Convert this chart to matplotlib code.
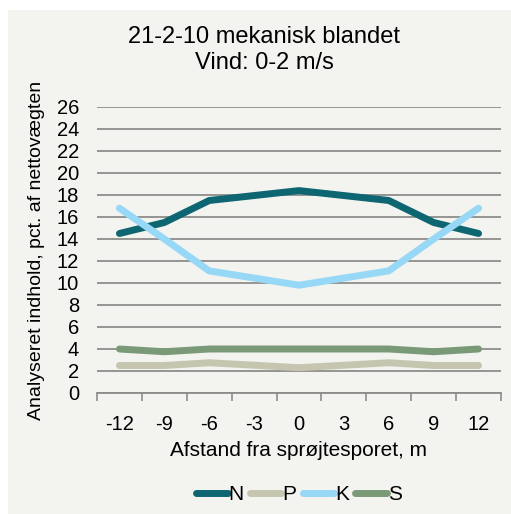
import matplotlib
matplotlib.use("Agg")
import matplotlib.pyplot as plt
from matplotlib.patches import Rectangle
import numpy as np

plt.rcParams['font.family'] = ['Liberation Sans', 'DejaVu Sans']
plt.rcParams['axes.unicode_minus'] = False

# afstand fra sprøjtesporet (m)
afstand = [-12, -9, -6, 0, 6, 9, 12]
tick_vaerdier = [-12, -9, -6, -3, 0, 3, 6, 9, 12]

N = [14.5, 15.5, 17.5, 18.4, 17.5, 15.5, 14.5]
P = [2.5, 2.5, 2.75, 2.3, 2.75, 2.5, 2.5]
K = [16.8, 14.0, 11.1, 9.8, 11.1, 14.0, 16.8]
S = [4.0, 3.75, 4.0, 4.0, 4.0, 3.75, 4.0]

serier = [("N", N, "#0d6672"), ("P", P, "#c6c5b0"),
          ("K", K, "#97d8f6"), ("S", S, "#7a9977")]

baggrund = "#f3f3ef"

fig = plt.figure(figsize=(5.11, 5.14), dpi=100)
fig.patch.set_facecolor("white")
fig.patches.append(Rectangle((8 / 511, 0), 1, 1 - 10 / 514, transform=fig.transFigure,
                             facecolor=baggrund, edgecolor="none", zorder=-10))

ax = fig.add_axes([97 / 511, 1 - 393 / 514, (501 - 97) / 511, (393 - 107) / 514])
ax.set_facecolor(baggrund)

for navn, vaerdier, farve in serier:
    ax.plot(afstand, vaerdier, color=farve, lw=5, solid_capstyle="round",
            solid_joinstyle="round", label=navn, zorder=3)

ax.set_xlim(-13.5, 13.5)
ax.set_ylim(0, 26)
ax.set_yticks(np.arange(0, 27, 2))
ax.set_xticks(tick_vaerdier)
ax.set_xticks(np.arange(-13.5, 14, 3), minor=True)
ax.tick_params(axis="x", which="major", length=0, labelsize=14.5, pad=16)
ax.tick_params(axis="x", which="minor", length=6, color="#8c8c8c", width=1.2, direction="out")
ax.tick_params(axis="y", length=0, labelsize=14.5, pad=13)
ax.grid(axis="y", color="#8c8c8c", lw=1.3, zorder=0)
for side in ["top", "right", "left"]:
    ax.spines[side].set_visible(False)
ax.spines["bottom"].set_color("#8c8c8c")
ax.spines["bottom"].set_linewidth(1.3)

ax.set_xlabel("Afstand fra sprøjtesporet, m", fontsize=15, labelpad=5)
ax.set_ylabel("Analyseret indhold, pct. af nettovægten", fontsize=14, labelpad=8)

fig.text(264 / 511, 1 - 50 / 514, "21-2-10 mekanisk blandet\nVind: 0-2 m/s",
         ha="center", va="center", fontsize=17, linespacing=1.25)

fig.legend(loc="center", bbox_to_anchor=(299 / 511, 1 - 495 / 514), ncol=4,
           frameon=False, fontsize=15, handlelength=1.5, handletextpad=0.05,
           columnspacing=0.3)

fig.savefig("out.png", dpi=100, facecolor=fig.get_facecolor())
